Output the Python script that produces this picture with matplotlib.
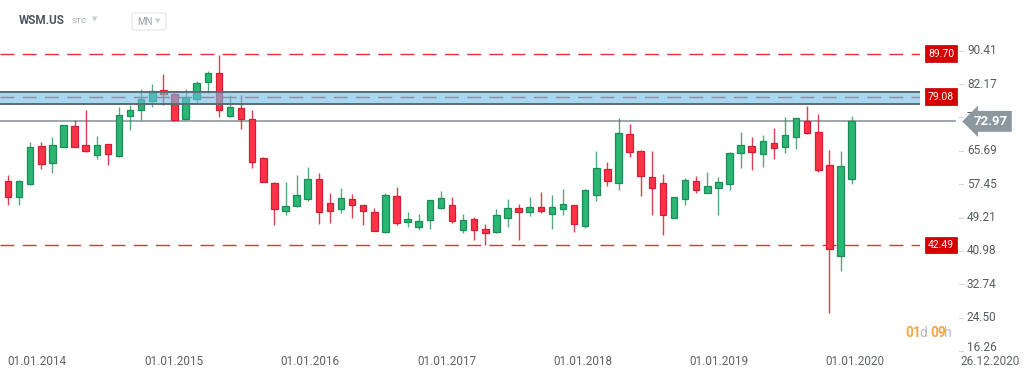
import matplotlib

matplotlib.use("Agg")
import matplotlib.pyplot as plt
from matplotlib.patches import FancyBboxPatch
from matplotlib.transforms import offset_copy
import numpy as np

plt.rcParams["font.family"] = ["Roboto", "DejaVu Sans"]

# monthly candles, Jan 2014 .. May 2020
opens = [58.25, 54.23, 57.51, 66.82, 62.69, 66.72, 71.75, 67.06, 64.59, 67.31,
         64.49, 74.29, 75.77, 78.07, 80.71, 79.65, 73.63, 78.41, 82.61, 84.90,
         74.29, 76.27, 73.63, 63.93, 57.76, 50.85, 52.01, 53.88, 58.74, 52.75,
         51.27, 53.73, 52.25, 50.60, 45.59, 54.62, 48.21, 46.97, 48.70, 51.51,
         52.33, 46.08, 48.87, 46.33, 45.59, 49.19, 51.59, 50.53, 51.83, 50.03,
         51.27, 52.25, 47.22, 54.87, 61.14, 57.76, 69.92, 65.65, 59.16, 57.83,
         49.05, 53.73, 58.25, 55.36, 56.52, 57.51, 65.09, 66.82, 64.84, 67.70,
         66.57, 69.11, 72.98, 70.34, 62.27, 39.74, 58.67]
highs = [59.73, 58.40, 67.80, 67.80, 69.18, 72.10, 73.31, 75.70, 69.43, 67.40,
         76.59, 76.93, 80.88, 82.19, 84.73, 80.29, 80.88, 83.00, 85.32, 89.35,
         79.47, 79.47, 75.77, 64.25, 58.00, 58.08, 59.73, 61.71, 60.15, 55.22,
         56.45, 54.97, 52.40, 51.66, 55.22, 56.70, 50.67, 50.03, 53.60, 55.78,
         54.38, 50.03, 49.29, 47.57, 51.42, 53.81, 52.50, 54.23, 55.46, 54.72,
         56.20, 52.30, 56.20, 65.65, 63.01, 73.72, 72.32, 65.80, 65.65, 59.98,
         54.30, 58.87, 59.48, 60.47, 59.16, 65.41, 70.42, 69.18, 69.53, 71.33,
         73.97, 73.80, 76.83, 74.71, 65.83, 65.58, 74.22]
lows = [52.33, 52.33, 57.30, 61.29, 60.30, 66.60, 66.60, 65.50, 63.61, 62.20,
        64.10, 70.84, 73.31, 76.44, 76.93, 73.06, 73.50, 77.57, 80.04, 74.12,
        74.12, 71.01, 61.39, 58.00, 47.32, 49.86, 51.76, 53.39, 47.64, 47.96,
        50.28, 49.05, 47.39, 45.80, 45.50, 47.47, 46.97, 46.23, 46.48, 51.40,
        47.96, 45.49, 43.69, 42.46, 45.50, 46.82, 43.69, 49.61, 50.28, 46.48,
        49.79, 45.74, 46.73, 53.39, 57.09, 56.03, 64.25, 54.55, 49.79, 44.85,
        49.00, 52.40, 55.36, 55.30, 49.86, 56.03, 61.46, 60.97, 61.71, 63.61,
        65.09, 66.07, 69.78, 60.40, 25.75, 36.11, 57.51]
closes = [54.23, 58.25, 66.57, 62.52, 67.06, 72.00, 66.72, 65.58, 67.21, 64.84,
          74.61, 75.77, 78.41, 80.54, 79.65, 73.38, 78.66, 82.51, 84.90, 75.77,
          76.59, 73.63, 62.94, 58.08, 51.27, 52.08, 54.72, 58.74, 50.60, 50.77,
          53.98, 52.25, 50.85, 45.91, 54.87, 47.96, 48.87, 48.38, 53.56, 53.98,
          48.45, 48.55, 46.08, 45.34, 49.93, 51.66, 50.60, 51.91, 50.85, 51.83,
          52.50, 47.57, 55.96, 61.53, 58.18, 70.10, 65.48, 59.56, 56.52, 49.86,
          54.23, 58.50, 56.03, 57.02, 58.00, 65.09, 67.06, 65.33, 68.20, 66.32,
          69.60, 73.72, 70.02, 60.97, 41.40, 62.03, 72.97]

levels = [89.70, 79.08, 42.49]
zone = (77.18, 80.14)
last_price = 72.97
yticks = [90.41, 82.17, 73.93, 65.69, 57.45, 49.21, 40.98, 32.74, 24.50, 16.26]
date_labels = ["01.01.2014", "01.01.2015", "01.01.2016", "01.01.2017",
               "01.01.2018", "01.01.2019", "01.01.2020", "26.12.2020"]
date_pos = [-0.1, 12.25, 24.5, 36.85, 49.1, 61.35, 73.6, 85.8]

W, H = 1024, 377
fig = plt.figure(figsize=(W / 100, H / 100), dpi=100)
ax = fig.add_axes([0, 25 / H, 920 / W, 317 / H])
ax.set_xlim(-0.72, 82.16)
ax.set_ylim(16.05, 94.28)
ax.axis("off")

GREEN, GREEN_E = "#2bb673", "#1c8c58"
RED, RED_E = "#ff3348", "#d21f33"

o = np.array(opens)
c = np.array(closes)
x = np.arange(len(o))
up = c >= o
ax.vlines(x[up], np.array(lows)[up], np.array(highs)[up], color=GREEN_E, lw=1, alpha=0.75, zorder=2)
ax.vlines(x[~up], np.array(lows)[~up], np.array(highs)[~up], color=RED_E, lw=1, alpha=0.85, zorder=2)
body_lo = np.minimum(o, c)
body_h = np.maximum(np.abs(c - o), 0.25)
ax.bar(x[up], body_h[up], bottom=body_lo[up], width=0.58, color=GREEN, edgecolor=GREEN_E, lw=0.9, zorder=3)
ax.bar(x[~up], body_h[~up], bottom=body_lo[~up], width=0.58, color=RED, edgecolor=RED_E, lw=0.9, zorder=3)

# horizontal levels
for lv in levels:
    ax.axhline(lv, color="#e03237", lw=1.0, dashes=(10, 6), zorder=1)
ax.axhspan(zone[0], zone[1], facecolor="#6cbee6", alpha=0.6, lw=0, zorder=4)
for z in zone:
    ax.axhline(z, color="#5f6b73", lw=1.4, zorder=5)

# last price line + tag
ax.plot([0, 1.038], [last_price, last_price], transform=ax.get_yaxis_transform(),
        color="#8c979e", lw=1.2, clip_on=False, zorder=1)

ytr = ax.get_yaxis_transform()
for i, v in enumerate(yticks):
    tr = ytr if i < len(yticks) - 1 else offset_copy(ytr, fig=fig, y=4, units="dots")
    ax.text(1.051, v, f"{v:.2f}", transform=tr, ha="left", va="center",
            fontsize=8.5, color="#555b60", clip_on=False)
    ax.plot([1.042, 1.047], [v, v], transform=ytr, color="#d5d9dc", lw=0.8, clip_on=False)

ax.text(1.077, last_price, f"{last_price:.2f}", transform=ytr, ha="center", va="center",
        fontsize=9.5, fontweight="bold", color="white", clip_on=False, zorder=10,
        bbox=dict(boxstyle="larrow,pad=0.3", fc="#8c979e", ec="none"))

for lv in levels:
    ax.text(1.023, lv, f"{lv:.2f}", transform=ytr, ha="center", va="center",
            fontsize=7.5, color="white", clip_on=False, zorder=10,
            bbox=dict(boxstyle="square,pad=0.3", fc="#d40000", ec="#b80000", lw=0.5))

# date labels
xtr = ax.get_xaxis_transform()
for p, lab in zip(date_pos, date_labels):
    ax.text(p, -0.03, lab, transform=xtr, ha="left", va="center",
            fontsize=8.5, color="#5f6468", clip_on=False)

# header
def fx(px):
    return px / W


def fy(py):
    return 1 - py / H


fig.text(fx(19), fy(20), "WSM.US", fontsize=8.5, fontweight="bold", color="#4c5660", va="center")
fig.text(fx(72), fy(21), "STC", fontsize=6, color="#9aa3aa", va="center")
fig.text(fx(92), fy(19), "\u25bc", fontsize=5, color="#c9ced2", va="center", family="DejaVu Sans")
fig.patches.append(FancyBboxPatch((fx(132), fy(30)), fx(34), 17 / H,
                                  boxstyle="round,pad=0,rounding_size=0.004",
                                  transform=fig.transFigure, fc="white", ec="#e2e5e8", lw=0.8))
fig.text(fx(137), fy(22), "MN", fontsize=7, color="#9aa3aa", va="center")
fig.text(fx(155), fy(21), "\u25bc", fontsize=5, color="#c9ced2", va="center", family="DejaVu Sans")

# countdown
fig.text(fx(905), fy(333), "01", fontsize=10, fontweight="bold", color="#f6a843", va="center")
fig.text(fx(919), fy(333), "d", fontsize=10, color="#b9bdc0", va="center")
fig.text(fx(930), fy(333), "09", fontsize=10, fontweight="bold", color="#f6a843", va="center")
fig.text(fx(944), fy(333), "h", fontsize=10, color="#b9bdc0", va="center")

fig.savefig("out.png", dpi=100)
